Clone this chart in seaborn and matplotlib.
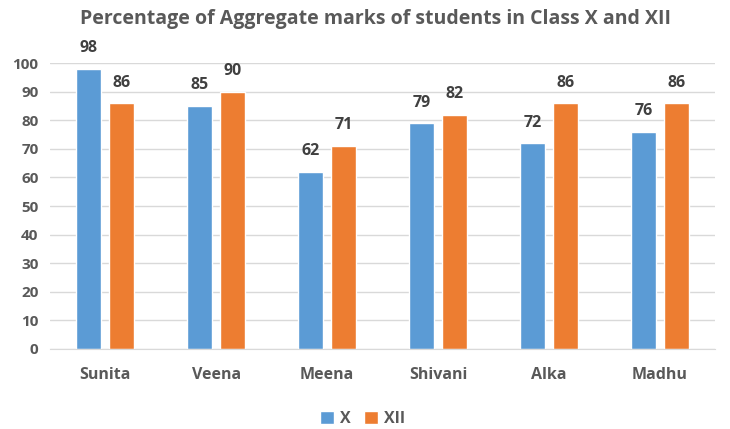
import matplotlib
matplotlib.use("Agg")
import matplotlib.pyplot as plt
import seaborn as sns
import pandas as pd

students = ["Sunita", "Veena", "Meena", "Shivani", "Alka", "Madhu"]
class_x = [98, 85, 62, 79, 72, 76]
class_xii = [86, 90, 71, 82, 86, 86]
series_names = ["X", "XII"]
title = "Percentage of Aggregate marks of students in Class X and XII"

df = pd.DataFrame({
    "Student": students * 2,
    "Marks": class_x + class_xii,
    "Class": [series_names[0]] * len(students) + [series_names[1]] * len(students),
})

sns.set_style("white")
plt.rcParams["font.family"] = ["Open Sans", "DejaVu Sans"]

fig = plt.figure(figsize=(7.3, 4.29), dpi=100)
ax = fig.add_axes([0.068, 0.1865, 0.912, 0.6665])

sns.barplot(data=df, x="Student", y="Marks", hue="Class", order=students,
            hue_order=series_names, palette=["#5B9BD5", "#ED7D31"],
            width=0.6, gap=0.25, ax=ax, legend=True, saturation=1)

ax.set_ylim(0, 100)
ax.set_yticks(range(0, 101, 10))
ax.yaxis.grid(True, color="#d9d9d9", linewidth=1)
ax.set_axisbelow(True)
for s in ["top", "right", "left"]:
    ax.spines[s].set_visible(False)
ax.spines["bottom"].set_color("#d9d9d9")
ax.tick_params(axis="both", length=0, labelsize=11, colors="#595959")
ax.tick_params(axis="x", pad=13, labelsize=11.5)
ax.tick_params(axis="y", pad=8)
for lbl in ax.get_xticklabels() + ax.get_yticklabels():
    lbl.set_fontweight("bold")
ax.set_xlabel("")
ax.set_ylabel("")

for cont in ax.containers:
    ax.bar_label(cont, padding=9, fontsize=11.5, fontweight="bold", color="#404040")

fig.text(0.514, 0.955, title, ha="center", va="center", fontsize=14,
         fontweight="bold", color="#595959")

leg = ax.legend(loc="center", bbox_to_anchor=(0.47, -0.245), ncol=2, frameon=False,
                handlelength=0.9, handleheight=0.9, handletextpad=0.4,
                columnspacing=0.8, fontsize=11.5)
for t in leg.get_texts():
    t.set_color("#595959")
    t.set_fontweight("bold")

fig.savefig("out.png", dpi=100)
